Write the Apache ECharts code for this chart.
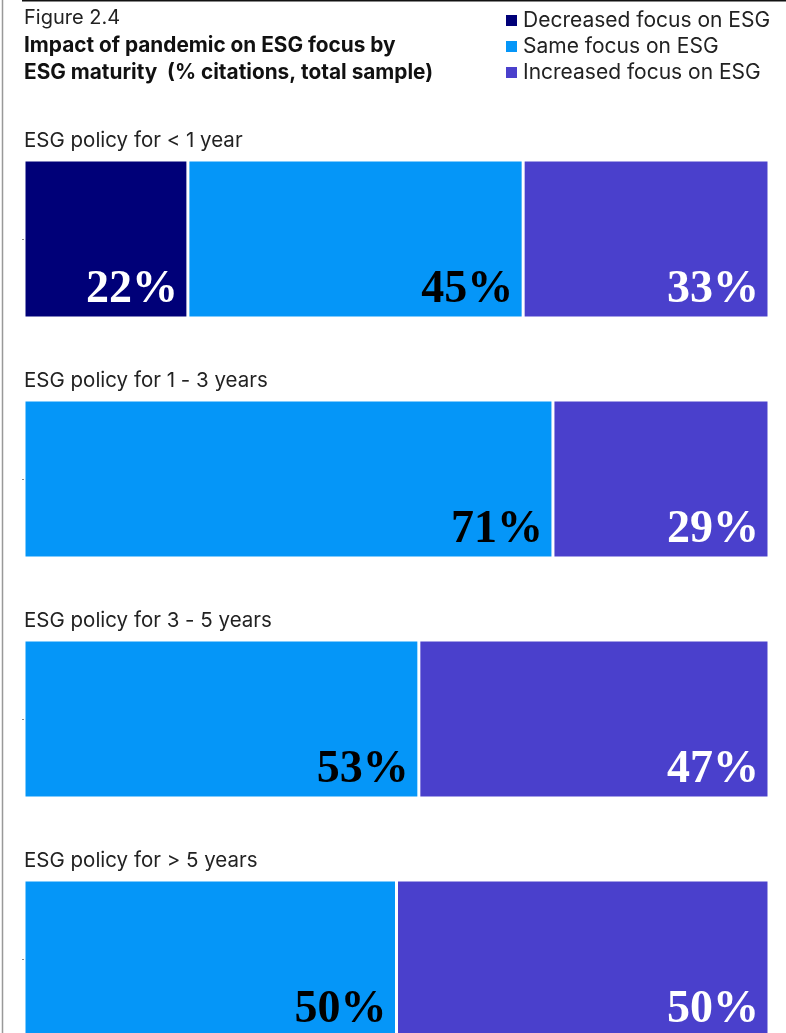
<!DOCTYPE html>
<html>
<head>
<meta charset="utf-8">
<script src="https://cdn.jsdelivr.net/npm/echarts@6/dist/echarts.min.js"></script>
<style>
  html, body { margin: 0; padding: 0; background: #fff; overflow: hidden; }
  #chart { width: 786px; height: 1045px; }
</style>
</head>
<body>
<div id="chart"></div>
<script>
// data
const groups = ['ESG policy for < 1 year', 'ESG policy for 1 - 3 years', 'ESG policy for 3 - 5 years', 'ESG policy for > 5 years'];
const seriesNames = ['Decreased focus on ESG', 'Same focus on ESG', 'Increased focus on ESG'];
const decreased = [22, null, null, null];
const same = [45, 71, 53, 50];
const increased = [33, 29, 47, 50];

const colors = ['#000078', '#0596F8', '#4A40CC'];
const labelColors = ['#fff', '#000', '#fff'];
const values = [decreased, same, increased];

const chart = echarts.init(document.getElementById('chart'));

const grids = [], xAxes = [], yAxes = [], series = [], texts = [];
groups.forEach((g, i) => {
  const top = 160 + 240 * i;
  grids.push({ left: 24, right: 17, top: top, height: 158 });
  xAxes.push({ gridIndex: i, type: 'value', min: 0, max: 100, show: false });
  yAxes.push({
    gridIndex: i, type: 'category', data: [g],
    axisLine: { show: false },
    axisLabel: { show: false },
    axisTick: { show: true, length: 2, alignWithLabel: true, lineStyle: { color: '#888' } }
  });
  texts.push({
    type: 'text', left: 24, top: top - 30,
    style: { text: g, font: '20.5px Inter', fill: '#222' }
  });
  seriesNames.forEach((name, k) => {
    series.push({
      name: name,
      type: 'bar',
      stack: 'g' + i,
      xAxisIndex: i,
      yAxisIndex: i,
      barWidth: '100%',
      data: [values[k][i]],
      itemStyle: { color: colors[k], borderColor: '#fff', borderWidth: 1.5 },
      label: {
        show: true,
        position: 'insideBottomRight',
        distance: 10,
        offset: [0, 5],
        formatter: p => p.value == null ? '' : p.value + '%',
        fontFamily: 'Liberation Serif',
        fontWeight: 'bold',
        fontSize: 46,
        color: labelColors[k]
      }
    });
  });
});

chart.setOption({
  animation: false,
  color: colors,
  legend: {
    data: seriesNames,
    orient: 'vertical',
    left: 499,
    top: 5,
    itemWidth: 13,
    itemHeight: 13,
    itemGap: 5,
    icon: 'rect',
    textStyle: { fontFamily: 'Inter', fontSize: 21, color: '#222' }
  },
  grid: grids,
  xAxis: xAxes,
  yAxis: yAxes,
  series: series,
  graphic: [
    { type: 'line', shape: { x1: 22, y1: 0.5, x2: 786, y2: 0.5 }, style: { stroke: '#111', lineWidth: 2 } },
    { type: 'line', shape: { x1: 2.5, y1: 0, x2: 2.5, y2: 1045 }, style: { stroke: '#999', lineWidth: 1.5 } },
    { type: 'text', left: 24, top: 8, style: { text: 'Figure 2.4', font: '20px Inter', fill: '#222' } },
    { type: 'text', left: 24, top: 35, style: { text: 'Impact of pandemic on ESG focus by', font: 'bold 20.8px Inter', fill: '#111' } },
    { type: 'text', left: 24, top: 62, style: { text: 'ESG maturity  (% citations, total sample)', font: 'bold 20.8px Inter', fill: '#111' } }
  ].concat(texts)
});
</script>
</body>
</html>
